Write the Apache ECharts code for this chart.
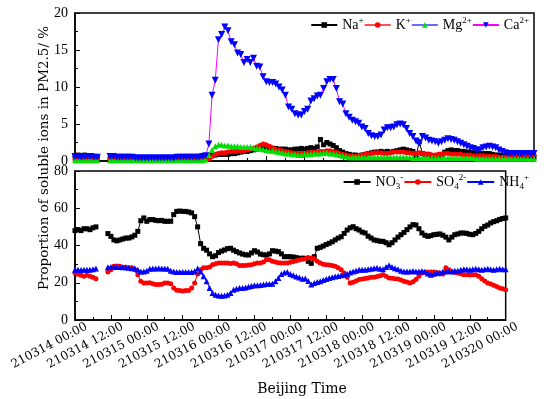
<!DOCTYPE html>
<html>
<head>
<meta charset="utf-8">
<script src="https://cdn.jsdelivr.net/npm/echarts@6/dist/echarts.min.js"></script>
<style>
html,body{margin:0;padding:0;background:#fff;}
#chart{width:550px;height:399px;}
</style>
</head>
<body>
<div id="chart"></div>
<script>
// Hourly values, hour 0 = 210314 00:00 ... hour 144 = 210320 00:00 (null = missing)
const xTickLabels = ['210314 00:00','210314 12:00','210315 00:00','210315 12:00','210316 00:00','210316 12:00',
  '210317 00:00','210317 12:00','210318 00:00','210318 12:00','210319 00:00','210319 12:00','210320 00:00'];

const naIon = [
  0.7,0.8,0.7,0.8,0.6,0.6,0.5,0.5,null,null,null,0.3,
  0.3,0.3,0.3,0.3,0.3,0.3,0.3,0.3,0.3,0.3,0.3,0.3,
  0.3,0.3,0.3,0.3,0.3,0.3,0.3,0.3,0.3,0.3,0.3,0.3,
  0.3,0.3,0.3,0.3,0.3,0.3,0.5,0.8,0.8,0.9,0.9,0.9,
  0.9,1.0,1.0,1.1,1.2,1.3,1.3,1.4,1.5,1.6,1.7,1.8,
  1.8,1.8,1.7,1.7,1.6,1.6,1.6,1.5,1.5,1.6,1.6,1.7,
  1.6,1.7,1.8,1.7,1.9,2.9,2.2,2.5,2.3,2.1,1.8,1.4,
  1.2,1.0,0.9,0.8,0.8,0.7,0.8,0.9,1.0,1.1,1.2,1.2,
  1.3,1.2,1.3,1.2,1.3,1.4,1.5,1.6,1.5,1.4,1.3,0.6,
  2.6,1.0,0.9,0.9,0.7,0.6,0.6,0.9,1.2,1.4,1.5,1.4,
  1.4,1.3,1.3,1.2,1.2,1.1,1.1,1.0,1.0,1.0,1.0,0.9,
  0.8,0.8,0.7,0.7,0.6,0.6,0.5,0.5,0.5,0.5,0.5,0.5,
  0.5];
const kIon = [
  0.2,0.2,0.2,0.2,0.2,0.2,0.2,0.2,null,null,null,0.2,
  0.2,0.2,0.2,0.2,0.2,0.2,0.2,0.2,0.2,0.2,0.2,0.2,
  0.2,0.2,0.2,0.2,0.2,0.2,0.2,0.2,0.2,0.2,0.2,0.2,
  0.2,0.2,0.2,0.2,0.2,0.2,0.3,0.6,0.9,1.0,1.1,1.1,
  1.2,1.3,1.3,1.4,1.4,1.4,1.5,1.6,1.7,1.9,2.1,2.3,
  2.2,2.0,1.8,1.6,1.5,1.4,1.3,1.2,1.1,1.0,1.0,1.0,
  1.0,1.1,1.1,1.2,1.2,1.3,1.3,1.4,1.4,1.3,1.2,1.0,
  0.9,0.8,0.7,0.7,0.6,0.7,0.8,0.9,1.0,1.0,1.1,1.1,
  1.1,1.0,1.0,1.1,1.2,1.2,1.2,1.2,1.1,1.1,1.0,1.0,
  1.1,1.0,0.9,0.9,0.8,0.8,0.9,0.9,1.0,1.0,0.9,0.9,
  0.9,0.9,0.8,0.8,0.8,0.7,0.7,0.7,0.7,0.6,0.6,0.6,
  0.6,0.5,0.5,0.5,0.5,0.6,0.6,0.7,0.7,0.8,0.8,0.8,
  0.8];
const mgIon = [
  0.1,0.1,0.1,0.1,0.1,0.1,0.1,0.1,null,null,null,0.1,
  0.1,0.1,0.1,0.1,0.1,0.1,0.1,0.1,0.1,0.1,0.1,0.1,
  0.1,0.1,0.1,0.1,0.1,0.1,0.1,0.1,0.1,0.1,0.1,0.1,
  0.1,0.1,0.1,0.1,0.1,0.2,0.8,1.5,2.0,2.2,2.2,2.1,
  2.1,2.0,2.0,2.0,1.9,1.9,1.9,1.9,1.8,1.7,1.7,1.6,
  1.5,1.4,1.4,1.3,1.2,1.1,1.0,1.0,0.9,0.9,0.8,0.8,
  0.9,0.9,0.9,1.0,1.0,1.0,1.1,1.1,1.0,1.0,0.9,0.8,
  0.7,0.6,0.5,0.5,0.5,0.5,0.5,0.5,0.5,0.5,0.5,0.5,
  0.5,0.5,0.5,0.5,0.5,0.5,0.5,0.5,0.5,0.5,0.4,0.4,
  0.4,0.4,0.4,0.4,0.4,0.4,0.4,0.4,0.4,0.4,0.4,0.4,
  0.4,0.4,0.4,0.4,0.4,0.4,0.3,0.3,0.3,0.3,0.3,0.3,
  0.3,0.3,0.3,0.3,0.3,0.3,0.3,0.3,0.3,0.3,0.3,0.3,
  0.3];
const caIon = [
  0.6,0.6,0.5,0.6,0.6,0.6,0.5,0.5,null,null,null,0.6,
  0.6,0.5,0.5,0.5,0.5,0.5,0.5,0.4,0.4,0.4,0.4,0.4,
  0.4,0.4,0.4,0.4,0.4,0.4,0.4,0.4,0.5,0.5,0.5,0.5,
  0.5,0.5,0.5,0.5,0.6,0.7,2.3,8.9,10.9,16.4,17.1,18.1,
  17.6,16.1,15.7,14.6,14.4,13.3,13.7,13.3,13.9,12.8,12.7,11.4,
  10.7,10.6,10.6,10.4,10.0,9.6,8.9,7.3,7.0,6.4,6.2,6.2,
  6.7,7.0,8.1,8.4,8.8,8.9,9.8,10.7,11.0,11.0,9.8,8.0,
  7.7,6.4,5.9,5.5,5.3,5.1,4.6,4.4,3.7,3.4,3.3,3.3,
  3.5,4.2,4.5,4.5,4.6,4.9,5.0,4.9,4.4,3.7,3.3,2.7,
  2.4,3.3,3.1,2.8,2.7,2.6,2.4,2.6,2.8,3.0,2.9,2.8,
  2.6,2.4,2.2,2.0,1.8,1.7,1.5,1.5,1.8,1.9,2.0,1.9,
  1.8,1.5,1.3,1.1,1.0,1.0,1.0,1.0,0.9,1.0,1.0,0.9,
  1.0];

const no3Ion = [
  48,48.5,48,49,49,48.5,49.5,50,null,null,null,46.4,
  44.9,43,42.5,43,43.5,44,44,44.6,45.5,47.6,53.3,54.8,
  53,53.9,53.9,53.5,53.3,53.5,53,53,53,56.6,58.3,58.5,
  58.3,58.3,58,57.5,55.5,50,41,38.5,37.5,35.5,34,34.5,
  36.2,37,37.6,38.3,38.5,37.5,36.7,36,35.4,35,34.9,36,
  37.2,36.5,35.4,35,34.9,35.5,37.2,37,36.7,35.5,34,34,
  34,33.8,33.5,33.1,33.2,33.1,31.5,30.4,34,38.5,39,39.7,
  40.5,41.2,42,43,44,44.7,46.5,48.3,49.5,50.1,49,48.3,
  47.2,46.7,45,44,43,42.6,42.3,42.2,41.5,40.4,41.5,43,
  44.5,45.8,47,48.5,50,51.2,51,49,46.7,45.5,44.9,45.3,
  45.8,46,46.2,45.5,44.5,43,44.5,45.8,46.2,46.7,46.7,46.5,
  46,45.8,46.5,47.6,49,50.3,51,52.1,52.8,53.3,54,54.5,
  54.8];
const so4Ion = [
  25.2,24.5,24,23.5,24,23.5,23,22.2,null,null,null,25.8,
  27,28.8,29,28.8,28.3,28.3,28,28,27,24.3,20.8,19.9,
  19.9,20,19.5,19,19,19.2,19.9,19.9,19.5,17.2,16,15.8,
  15.6,15.8,15.8,17.2,19.9,24.7,27,28,28,28.5,29.7,30.2,
  30.6,30.6,30.6,30.6,30.4,30.6,30.2,29.3,29.3,29.3,29.5,29.7,
  30.2,30.6,30.6,31.2,32.4,32.4,31.5,31.2,30.8,30.6,30.6,30.6,
  31,31.4,31.8,32.2,32.6,32.9,33.6,33.2,32.9,31.5,30.6,30,
  29.7,29.5,29.3,28.8,28,27,25.2,23,19.9,20.3,21,21.7,
  22,22.3,22.5,22.9,23,23.4,23.8,24.3,23.5,22.5,22.4,22.2,
  22,21.5,20.8,20.4,19.9,20.5,21.7,23.5,25.2,25.5,25.8,25.8,
  25.8,25.5,24.7,24.7,28,27,26.1,25.5,25.2,24.8,24.3,24.3,
  24.2,24.3,24.3,23.5,22.2,21,19.9,19.3,18.7,18,17.2,16.8,
  16.3];
const nh4Ion = [
  27,27,26.8,27,27,27,27.2,27.6,null,null,null,28.3,
  28.5,28.5,28.5,28.5,28.3,28.3,28,27.8,27.8,27,26.1,26.1,
  26.5,27.5,27.7,27.7,27.8,27.7,27.7,27.5,26.5,26,25.8,25.8,
  25.8,25.8,25.8,25.8,26.2,27.7,26,23.5,20.8,17.2,14.5,13.5,
  13.2,13,13.2,13.6,14.5,16.3,16.8,17.2,17.2,17.5,17.8,18.3,
  18.6,18.6,18.8,19,19.3,19.3,19.5,20.8,22.5,24.7,25.5,25.8,
  24.7,24,23.4,22.8,22.2,22.3,21,19,19.9,20.4,20.8,21.5,
  22,22.5,23,23.4,23.6,24,24.3,24.7,25.5,26.1,26.5,27,
  27,27,27.2,27.5,27.8,28,27.5,27.2,28.5,29.4,28.5,27.8,
  27.2,26.5,26.1,26.1,26.1,26.3,26.1,26.1,26.3,26.1,25,24.3,
  24.8,25.2,25.5,26,26.1,26.3,26.1,26.5,26.5,27,27.3,27.3,
  27,27.3,27.5,27.3,27,27.3,27.5,27.3,27,27.3,27.5,27.3,
  27.3];

function pairs(arr){ return arr.map(function(v,i){ return [i, v]; }); }

const legendNames = {
  'Na+':'{b|Na}{sup|+}', 'K+':'{b|K}{sup|+}', 'Mg2+':'{b|Mg}{sup|2+}', 'Ca2+':'{b|Ca}{sup|2+}',
  'NO3-':'{b|NO}{sub|3}{sup|-}', 'SO42-':'{b|SO}{sub|4}{sup|2-}', 'NH4+':'{b|NH}{sub|4}{sup|+}'
};
const richLegend = {
  b:{fontFamily:'Liberation Serif', fontSize:14, color:'#000', lineHeight:18, verticalAlign:'middle'},
  sup:{fontFamily:'Liberation Serif', fontSize:9, color:'#000', lineHeight:10, verticalAlign:'top'},
  sub:{fontFamily:'Liberation Serif', fontSize:9, color:'#000', lineHeight:10, verticalAlign:'bottom'}
};

function xAxisCfg(grid, showLabels){
  return {
    type:'value', gridIndex:grid, min:0, max:144, interval:12,
    axisLine:{show:true, onZero:false, lineStyle:{color:'#000', width:1.5}},
    axisTick:{show:true, inside:true, length:5, lineStyle:{color:'#000', width:1}},
    minorTick:{show:true, splitNumber:2, length:3, lineStyle:{color:'#000', width:1}},
    splitLine:{show:false},
    axisLabel:{
      show:showLabels, rotate:28, margin:12, align:'center',
      fontFamily:'DejaVu Serif', fontSize:12, color:'#000',
      formatter:function(v){ return '{t|' + xTickLabels[Math.round(v/12)] + '}{p| }'; },
      rich:{ t:{fontFamily:'DejaVu Serif', fontSize:12, color:'#000'}, p:{width:58} }
    }
  };
}
function yAxisCfg(grid, max, interval){
  return {
    type:'value', gridIndex:grid, min:0, max:max, interval:interval,
    axisLine:{show:true, lineStyle:{color:'#000', width:1.5}},
    axisTick:{show:true, inside:true, length:5, lineStyle:{color:'#000', width:1}},
    minorTick:{show:true, splitNumber:2, length:3, lineStyle:{color:'#000', width:1}},
    splitLine:{show:false},
    axisLabel:{margin:7, fontFamily:'Liberation Serif', fontSize:14, color:'#000'}
  };
}
function lineSeries(name, data, xi, lineColor, markColor, symbol, size, rotate){
  return {
    name:name, type:'line', xAxisIndex:xi, yAxisIndex:xi, data:pairs(data),
    symbol:symbol, symbolSize:size, symbolRotate:rotate || 0, showSymbol:true,
    connectNulls:false, animation:false,
    lineStyle:{color:lineColor, width:1},
    itemStyle:{color:markColor, borderWidth:0}
  };
}

const chart = echarts.init(document.getElementById('chart'));
chart.setOption({
  backgroundColor:'#fff',
  animation:false,
  grid:[
    {left:75, right:16, top:13, height:148, show:true, borderColor:'#000', borderWidth:1.5, backgroundColor:'transparent'},
    {left:75, right:16, top:171, height:149, show:true, borderColor:'#000', borderWidth:1.5, backgroundColor:'transparent'}
  ],
  xAxis:[ xAxisCfg(0,false), xAxisCfg(1,true) ],
  yAxis:[ yAxisCfg(0,20,5), yAxisCfg(1,80,20) ],
  legend:[
    {data:['Na+','K+','Mg2+','Ca2+'], right:16, top:11, itemWidth:26, itemHeight:7, itemGap:0,
     formatter:function(n){ return legendNames[n]; }, textStyle:{rich:richLegend}},
    {data:['NO3-','SO42-','NH4+'], right:16, top:168, itemWidth:27, itemHeight:7, itemGap:0,
     formatter:function(n){ return legendNames[n]; }, textStyle:{rich:richLegend}}
  ],
  graphic:[
    {type:'text', x:44, y:158, rotation:Math.PI/2,
     style:{text:'Proportion of soluble ions in PM2.5/ %', fontFamily:'DejaVu Serif', fontSize:13.5, fill:'#000', align:'center', verticalAlign:'middle'}},
    {type:'text', x:302, y:389,
     style:{text:'Beijing Time', fontFamily:'DejaVu Serif', fontSize:14, fill:'#000', align:'center', verticalAlign:'middle'}}
  ],
  series:[
    lineSeries('Na+', naIon, 0, '#000000', '#000000', 'rect', 5),
    lineSeries('K+', kIon, 0, '#ff5050', '#ff0000', 'circle', 5),
    lineSeries('Mg2+', mgIon, 0, '#6a6aff', '#00e000', 'triangle', 6),
    lineSeries('Ca2+', caIon, 0, '#ff00ff', '#0000ff', 'triangle', 7, 180),
    lineSeries('NO3-', no3Ion, 1, '#000000', '#000000', 'rect', 5),
    lineSeries('SO42-', so4Ion, 1, '#ff0000', '#ff0000', 'circle', 5),
    lineSeries('NH4+', nh4Ion, 1, '#0000ff', '#0000ff', 'triangle', 6)
  ]
});
</script>
</body>
</html>
